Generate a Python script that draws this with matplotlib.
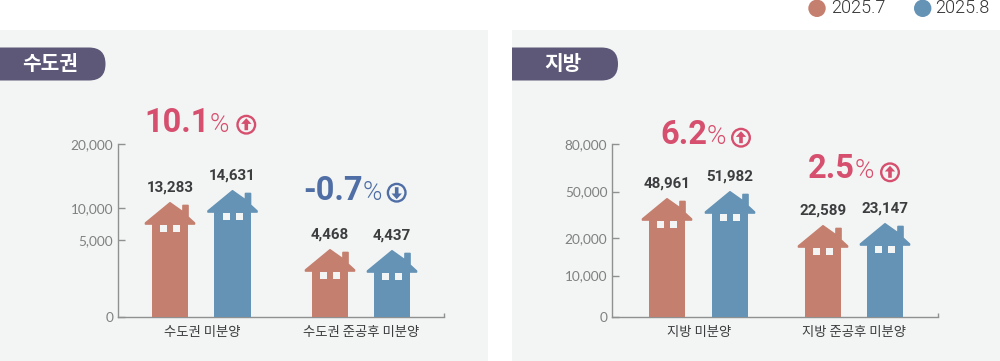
import matplotlib
matplotlib.use("Agg")
import matplotlib.pyplot as plt
import numpy as np
from matplotlib.patches import Polygon, FancyBboxPatch, Circle, Rectangle
from matplotlib.transforms import IdentityTransform

plt.rcParams['font.family'] = ['Noto Sans CJK KR', 'DejaVu Sans']

# data
regions = ["수도권", "지방"]
series_names = ["2025.7", "2025.8"]
capital_cats = ["수도권 미분양", "수도권 준공후 미분양"]
capital_jul = [13283, 4468]
capital_aug = [14631, 4437]
capital_delta = ["10.1", "-0.7"]
local_cats = ["지방 미분양", "지방 준공후 미분양"]
local_jul = [48961, 22589]
local_aug = [51982, 23147]
local_delta = ["6.2", "2.5"]
capital_ticks = [0, 5000, 10000, 20000]
local_ticks = [0, 10000, 20000, 50000, 80000]

# the source axis is hand drawn, not linear: value -> height in px above the baseline
capital_knots = [0, 4437, 4468, 5000, 10000, 13283, 14631, 20000]
capital_heights = [0, 67, 68, 77, 109, 115, 127, 173]
local_knots = [0, 10000, 20000, 22589, 23147, 48961, 50000, 51982, 80000]
local_heights = [0, 41.5, 79, 92, 94, 119, 125.4, 126, 173]

W, H = 1000, 361
c_jul, c_aug = "#c57f6f", "#6593b5"
c_red, c_blue = "#d64f6e", "#4f6ea5"
c_bg = "#f3f5f4"
c_pill = "#5e5878"
c_dark = "#3c3d3f"
c_tick = "#7f8080"
c_axis = "#8f9090"
num_font = ['Roboto', 'DejaVu Sans']
thin_font = ['Roboto', 'DejaVu Sans']

fig = plt.figure(figsize=(W / 100, H / 100), dpi=100, facecolor="white")

# page layer in pixel coordinates
bg = fig.add_axes([0, 0, 1, 1], zorder=0)
bg.set_xlim(0, W)
bg.set_ylim(H, 0)
bg.axis("off")
top = fig.add_axes([0, 0, 1, 1], zorder=5)
top.set_xlim(0, W)
top.set_ylim(H, 0)
top.axis("off")
top.patch.set_alpha(0)

for x0 in [0, 512]:
    bg.add_patch(Rectangle((x0, 30), 488, 331, fc=c_bg, ec="none"))


def pill(x0, x1, label):
    y0, y1 = 47.5, 80.5
    r = (y1 - y0) / 2
    p = FancyBboxPatch((x0 - 30, y0 + r), x1 - x0 + 30 - r, 0,
                       boxstyle="round,pad=%f,rounding_size=%f" % (r, r),
                       fc=c_pill, ec="none")
    top.add_patch(p)
    # square off the left end at the panel edge
    p.set_clip_path(Rectangle((x0, y0 - 1), x1 - x0 + 1, y1 - y0 + 2, transform=top.transData))
    top.text(x0 + 50.5, 63.5, label, color="white", fontsize=14.6,
             fontweight="bold", ha="center", va="center")


pill(0, 105.5, regions[0])
pill(512, 618, regions[1])

# legend
for cx, tx, col, name in zip([817, 922.7], [831.5, 935.5], [c_jul, c_aug], series_names):
    top.add_patch(Circle((cx, 8.3), 8.7, fc=col, ec="none"))
    top.text(tx, 8.3, name, color="#333333", fontsize=13, family=thin_font,
             fontweight=300, ha="left", va="center")


def house(ax, xc, value, col):
    tx, top_px = ax.transData.transform((xc, value))
    _, base_px = ax.transData.transform((xc, 0))
    tr = IdentityTransform()
    body = Polygon([(tx - 18.2, top_px - 20), (tx + 18.2, top_px - 20),
                    (tx + 18.2, base_px), (tx - 18.2, base_px)],
                   fc=col, ec="none", transform=tr, clip_on=False, zorder=3)
    roof = Polygon([(tx, top_px - 0.8), (tx + 13, top_px - 10), (tx + 13, top_px - 3.5),
                    (tx + 18, top_px - 3.5), (tx + 18, top_px - 15), (tx + 24.5, top_px - 21),
                    (tx + 24.5, top_px - 22), (tx - 24.5, top_px - 22), (tx - 24.5, top_px - 21)],
                   fc=col, ec=col, lw=1.2, joinstyle="round", transform=tr, clip_on=False, zorder=3)
    ax.add_patch(body)
    ax.add_patch(roof)
    for dx in [-10, 3]:
        ax.add_patch(Rectangle((tx + dx, top_px - 30), 7, 7, fc=c_bg, ec="none", transform=tr,
                               clip_on=False, zorder=4))
    ax.annotate(f"{value:,}", (xc, value), xytext=(0, 10.6), textcoords="offset points",
                ha="center", va="center", fontsize=10.9, fontweight="bold", color=c_dark,
                family=num_font, annotation_clip=False)


def panel(x0, x1, knots, heights, ticks, cats, jul, aug, xs):
    ax = fig.add_axes([x0 / W, (H - 317) / H, (x1 - x0) / W, 173 / H], zorder=2)
    ax.patch.set_alpha(0)
    ax.set_xlim(x0, x1)
    ax.set_yscale("function", functions=(lambda v: np.interp(v, knots, heights),
                                         lambda h: np.interp(h, heights, knots)))
    ax.set_ylim(0, knots[-1])
    ax.spines[["top", "right"]].set_visible(False)
    ax.spines[["left", "bottom"]].set_color(c_axis)
    ax.spines[["left", "bottom"]].set_linewidth(1.0)
    ax.set_yticks(ticks, [f"{t:,}" for t in ticks], fontsize=9.8, color=c_tick,
                  family=['Lato', 'DejaVu Sans'])
    ax.yaxis.set_minor_locator(plt.NullLocator())
    ax.tick_params(axis="y", direction="in", length=5.2, width=1.0, color=c_axis, pad=3)
    for i in range(2):
        house(ax, xs[i][0], jul[i], c_jul)
        house(ax, xs[i][1], aug[i], c_aug)
    ax.set_xticks([np.mean(xs[0]) + 0.5, np.mean(xs[1])], cats, fontsize=9.6, color=c_dark)
    ax.tick_params(axis="x", length=0, pad=5.5)
    ax.set_xticks([x1], minor=True)
    ax.tick_params(axis="x", which="minor", direction="in", length=3, width=1.0, color=c_axis)
    return ax


panel(117.5, 444, capital_knots, capital_heights, capital_ticks, capital_cats,
      capital_jul, capital_aug, [(170, 232.5), (330, 392)])
panel(611.5, 938, local_knots, local_heights, local_ticks, local_cats,
      local_jul, local_aug, [(667, 730), (823, 885)])


def delta(text, x_end, base, cx, cy, col, up):
    top.text(x_end + 2, base, text, color=col, fontsize=23.5, fontweight="bold", family=num_font,
             ha="right", va="baseline")
    top.text(x_end + 2, base, "%", color=col, fontsize=19, fontweight=300,
             family=thin_font, ha="left", va="baseline")
    top.add_patch(Circle((cx, cy), 8.8, fc="none", ec=col, lw=1.7))
    s = -1 if up else 1
    top.add_patch(Polygon([(cx, cy + s * 6.5), (cx - 5.2, cy + s * 0.8), (cx - 1.8, cy + s * 0.8),
                           (cx - 1.8, cy - s * 5.5), (cx + 1.8, cy - s * 5.5),
                           (cx + 1.8, cy + s * 0.8), (cx + 5.2, cy + s * 0.8)],
                          fc=col, ec="none"))


delta(capital_delta[0], 208, 132, 246.3, 124.7, c_red, True)
delta(capital_delta[1], 361, 200, 396.7, 192.7, c_blue, False)
delta(local_delta[0], 705, 144.5, 741, 137.7, c_red, True)
delta(local_delta[1], 853, 178.5, 890, 172.3, c_red, True)

fig.savefig("out.png", dpi=100)
